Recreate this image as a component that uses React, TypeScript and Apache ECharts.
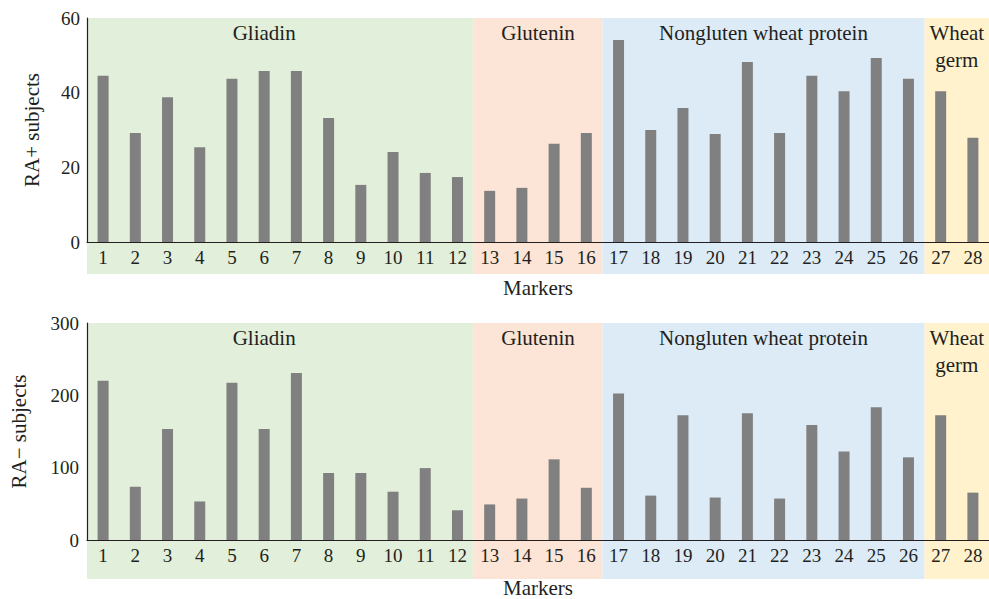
import React, { useEffect, useRef } from "react";
import * as echarts from "echarts";

const markers = Array.from({ length: 28 }, (_, i) => String(i + 1));

const raPositive = [
  44.5, 29.2, 38.8, 25.4, 43.7, 45.8, 45.8, 33.2, 15.3, 24.1, 18.5, 17.4,
  13.7, 14.5, 26.3, 29.2,
  54.1, 30.0, 35.9, 28.9, 48.2, 29.2, 44.5, 40.4, 49.3, 43.7,
  40.4, 27.9,
];

const raNegative = [
  220, 73.6, 153.6, 53.3, 217.3, 153.6, 230.8, 92.6, 92.6, 66.8, 99.4, 41.1,
  49.2, 57.3, 111.5, 72.2,
  202.4, 61.4, 172.5, 58.7, 175.3, 57.3, 159, 122.4, 183.4, 114.3,
  172.5, 65.5,
];

const groupNames = ["Gliadin", "Glutenin", "Nongluten wheat protein", "Wheat\ngerm"];
const groupStart = ["1", "13", "17", "27"];
const groupEnd = ["12", "16", "26", "28"];
const groupColors = ["#e2efda", "#fce4d6", "#ddebf7", "#fff2cc"];
// category on which each group's label is centred (null = centre of group)
const groupLabelAt: (string | null)[] = ["6", null, null, null];

const yMax = [60, 300];
const yInterval = [20, 100];
const yNames = ["RA+ subjects", "RA\u2212 subjects"];

const FONT = "Liberation Serif";
const INK = "#231f20";

const grids = [
  { left: 87, top: 18, width: 902, height: 224 },
  { left: 87, top: 323, width: 902, height: 221 },
];

export default function App() {
  const ref = useRef<HTMLDivElement>(null);

  useEffect(() => {
    if (!ref.current) return;
    const chart = echarts.init(ref.current, null, { renderer: "svg" });
    const seriesData = [raPositive, raNegative];
    const option: any = {
      animation: false,
      textStyle: { fontFamily: FONT },
      grid: grids.map((g) => ({ ...g, containLabel: false })),
      xAxis: grids.map((_, i) => ({
        type: "category",
        gridIndex: i,
        data: markers,
        boundaryGap: true,
        axisLine: { show: true, lineStyle: { color: INK, width: 1.2 } },
        axisTick: { show: false },
        axisLabel: { color: INK, fontFamily: FONT, fontSize: 19, margin: 6, interval: 0 },
        splitLine: { show: false },
        name: "Markers",
        nameLocation: "middle",
        nameGap: i === 0 ? 35 : 37,
        nameTextStyle: { color: INK, fontFamily: FONT, fontSize: 21 },
      })),
      yAxis: grids.map((_, i) => ({
        type: "value",
        gridIndex: i,
        min: 0,
        max: yMax[i],
        interval: yInterval[i],
        axisLine: { show: true, lineStyle: { color: INK, width: 1.2 } },
        axisTick: { show: false },
        splitLine: { show: false },
        axisLabel: { color: INK, fontFamily: FONT, fontSize: 19, margin: i === 0 ? 7 : 8 },
        name: yNames[i],
        nameLocation: "middle",
        nameRotate: 90,
        nameGap: i === 0 ? 45 : 58,
        nameTextStyle: { color: INK, fontFamily: FONT, fontSize: 21 },
      })),
      series: seriesData.map((d, i) => ({
        type: "bar",
        xAxisIndex: i,
        yAxisIndex: i,
        data: d,
        barWidth: 11,
        itemStyle: { color: "#808080" },
        z: 5,
      })),
    };
    chart.setOption(option);

    const graphics: any[] = [];
    grids.forEach((g, gi) => {
      const c0 = chart.convertToPixel({ xAxisIndex: gi }, markers[0]) as number;
      const c1 = chart.convertToPixel({ xAxisIndex: gi }, markers[1]) as number;
      const band = c1 - c0;
      groupNames.forEach((name, k) => {
        const xs = (chart.convertToPixel({ xAxisIndex: gi }, groupStart[k]) as number) - band / 2;
        const xe = (chart.convertToPixel({ xAxisIndex: gi }, groupEnd[k]) as number) + band / 2;
        graphics.push({
          type: "rect",
          z: -10,
          silent: true,
          shape: { x: xs, y: g.top, width: xe - xs, height: 256 },
          style: { fill: groupColors[k] },
        });
        const lx =
          groupLabelAt[k] != null
            ? (chart.convertToPixel({ xAxisIndex: gi }, groupLabelAt[k] as string) as number)
            : (xs + xe) / 2;
        graphics.push({
          type: "text",
          z: 20,
          silent: true,
          x: lx,
          y: g.top + 1.5,
          style: {
            text: name,
            fill: INK,
            fontFamily: FONT,
            fontSize: 21,
            align: "center",
            verticalAlign: "top",
            lineHeight: 27,
          },
        });
      });
    });
    chart.setOption({ graphic: graphics });

    return () => chart.dispose();
  }, []);

  return (
    <div
      ref={ref}
      style={{ position: "absolute", left: 0, top: 0, width: 989, height: 599, background: "#fff" }}
    />
  );
}
